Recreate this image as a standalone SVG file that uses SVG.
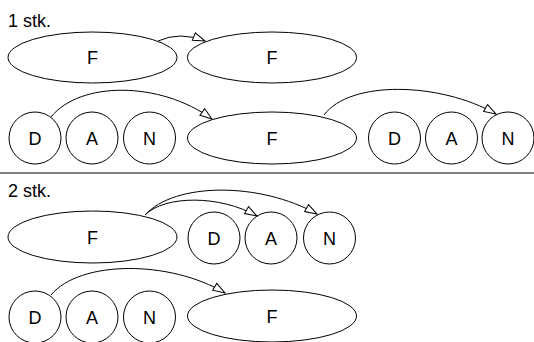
<svg xmlns="http://www.w3.org/2000/svg" width="534" height="342" viewBox="0 0 534 342">
<style>
.n{fill:#fff;stroke:#000;stroke-width:1}
.t{font-family:"Liberation Sans",Arial,sans-serif;font-size:18px;fill:#000;text-anchor:middle}
.h{font-family:"Liberation Sans",Arial,sans-serif;font-size:18px;fill:#000}
.e{fill:none;stroke:#000;stroke-width:1;marker-end:url(#ah)}
</style>
<defs>
<marker id="ah" markerUnits="userSpaceOnUse" markerWidth="14" markerHeight="10" refX="12" refY="4" orient="auto" viewBox="-1 -1 14 10">
<path d="M0,0 L12,4 L0,8 z" fill="#fff" stroke="#000" stroke-width="1"/>
</marker>
</defs>
<rect width="534" height="342" fill="#fff"/>
<text class="h" x="8" y="26.5">1 stk.</text>
<line x1="0" y1="173" x2="534" y2="173" stroke="#000" stroke-width="1"/>
<text class="h" x="8" y="196.5">2 stk.</text>

<g id="r1-F1"><ellipse class="n" cx="92.5" cy="57.5" rx="84.5" ry="25.5"/><text class="t" x="92.5" y="64">F</text></g>
<g id="r1-F2"><ellipse class="n" cx="272" cy="57.5" rx="84.5" ry="25.5"/><text class="t" x="272" y="64">F</text></g>

<g id="r2-D1"><circle class="n" cx="35" cy="138" r="26"/><text class="t" x="35" y="144.5">D</text></g>
<g id="r2-A1"><circle class="n" cx="92" cy="138" r="26"/><text class="t" x="92" y="144.5">A</text></g>
<g id="r2-N1"><circle class="n" cx="149.5" cy="138" r="26"/><text class="t" x="149.5" y="144.5">N</text></g>
<g id="r2-F"><ellipse class="n" cx="272" cy="138" rx="84.5" ry="26"/><text class="t" x="272" y="144.5">F</text></g>
<g id="r2-D2"><circle class="n" cx="394.5" cy="138" r="26"/><text class="t" x="394.5" y="144.5">D</text></g>
<g id="r2-A2"><circle class="n" cx="451.5" cy="138" r="26"/><text class="t" x="451.5" y="144.5">A</text></g>
<g id="r2-N2"><circle class="n" cx="508" cy="138" r="26"/><text class="t" x="508" y="144.5">N</text></g>

<g id="r3-F"><ellipse class="n" cx="92.5" cy="237" rx="84.5" ry="26"/><text class="t" x="92.5" y="243.5">F</text></g>
<g id="r3-D"><circle class="n" cx="214" cy="238" r="26"/><text class="t" x="214" y="244.5">D</text></g>
<g id="r3-A"><circle class="n" cx="271" cy="238" r="26"/><text class="t" x="271" y="244.5">A</text></g>
<g id="r3-N"><circle class="n" cx="329.5" cy="238" r="26"/><text class="t" x="329.5" y="244.5">N</text></g>

<g id="r4-D"><circle class="n" cx="35" cy="317" r="26"/><text class="t" x="35" y="323.5">D</text></g>
<g id="r4-A"><circle class="n" cx="92" cy="317" r="26"/><text class="t" x="92" y="323.5">A</text></g>
<g id="r4-N"><circle class="n" cx="149.5" cy="317" r="26"/><text class="t" x="149.5" y="323.5">N</text></g>
<g id="r4-F"><ellipse class="n" cx="272" cy="316" rx="84.5" ry="26"/><text class="t" x="272" y="322.5">F</text></g>

<g id="connectors">
<path class="e" d="M158,41 Q180,31 205,41"/>
<path class="e" d="M51,117 C80,81 160,81 212,119"/>
<path class="e" d="M324,115 C350,80 440,82 496,114"/>
<path class="e" d="M145,215 C165,195 220,195 257,216"/>
<path class="e" d="M145,215 C175,182 260,182 317,214"/>
<path class="e" d="M51,295 C80,260 170,260 225,293"/>
</g>
</svg>
